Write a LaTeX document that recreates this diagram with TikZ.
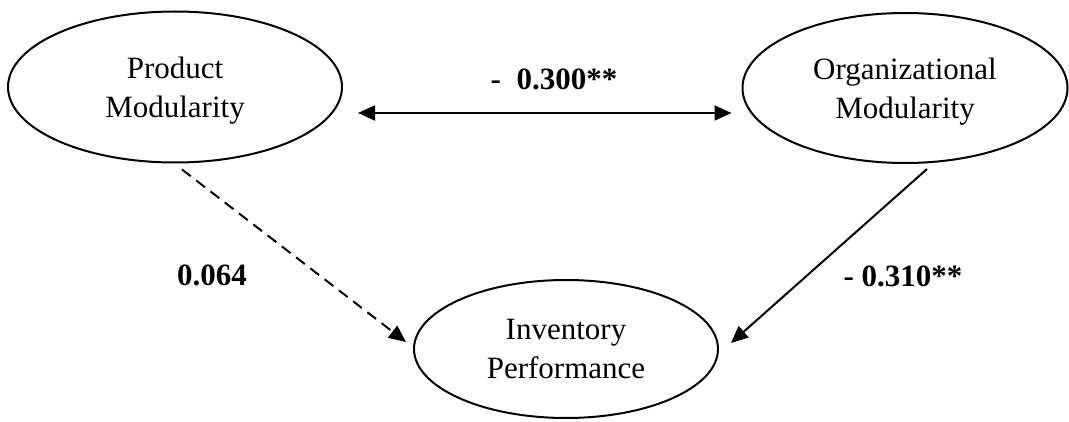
\documentclass[tikz,border=0pt]{standalone}
\usepackage{fontspec}
\setmainfont{Liberation Serif}
\usetikzlibrary{shapes.geometric,arrows.meta,calc}
\tikzset{
  construct/.style={ellipse,draw,line width=2pt,inner sep=0pt,align=center,
    text depth=0pt,font=\fontsize{31}{39}\selectfont},
  coef/.style={font=\fontsize{31}{36}\selectfont\bfseries,inner sep=0pt},
  tip/.style={},
  path/.style={line width=2pt,-{Triangle[length=17pt,width=15pt]}},
  dpath/.style={path,dash pattern=on 11pt off 7pt},
}
\begin{document}
\begin{tikzpicture}[x=1pt,y=1pt]
\useasboundingbox (0,0) rectangle (1069,421);
\node[construct,minimum width=334pt,minimum height=151pt] (pm) at (175,334) {Product\\Modularity};
\node[construct,minimum width=325pt,minimum height=150pt] (om) at (905,333) {Organizational\\Modularity};
\node[construct,minimum width=304pt,minimum height=138pt] (ip) at (566,72) {Inventory\\Performance};
\draw[path,{Triangle[length=17pt,width=15pt]}-{Triangle[length=17pt,width=15pt]}]
  ([xshift=15pt,yshift=-26pt]pm.east) -- ([xshift=-10pt,yshift=-25pt]om.west);
\draw[dpath] ([xshift=7pt,yshift=-6pt]pm.south) -- ([xshift=-7pt,yshift=7pt]ip.west);
\draw[path] ([xshift=22pt,yshift=-5pt]om.south) -- ([xshift=12pt,yshift=6pt]ip.east);
\node[coef] (c1) at (554,342) {-\ \ 0.300**};
\node[coef] (c2) at (212,146) {0.064};
\node[coef] (c3) at (903,145) {- 0.310**};
\end{tikzpicture}
\end{document}
